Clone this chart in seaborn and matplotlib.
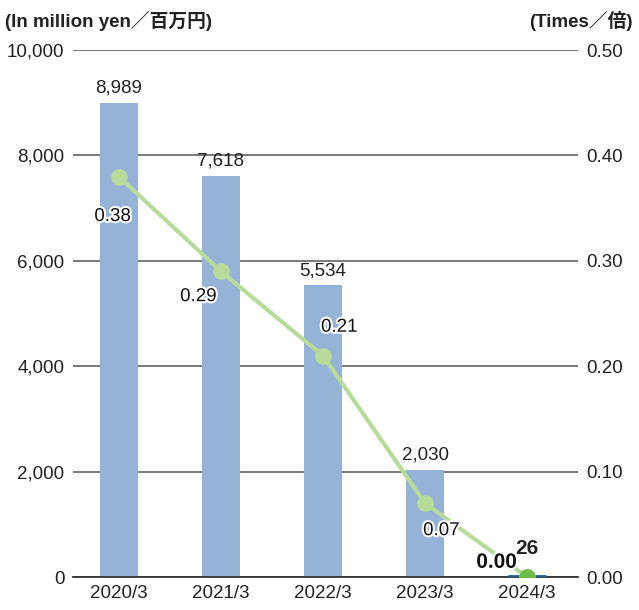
import matplotlib
matplotlib.use("Agg")
import matplotlib.pyplot as plt
import matplotlib.patheffects as pe
import seaborn as sns
import pandas as pd

years = ["2020/3", "2021/3", "2022/3", "2023/3", "2024/3"]
debt = [8989, 7618, 5534, 2030, 26]
ratio = [0.38, 0.29, 0.21, 0.07, 0.00]
debt_labels = ["8,989", "7,618", "5,534", "2,030", "26"]
ratio_labels = ["0.38", "0.29", "0.21", "0.07", "0.00"]

sns.set_theme(style="white")
plt.rcParams["font.family"] = ["Liberation Sans", "Noto Sans CJK JP", "DejaVu Sans"]

df = pd.DataFrame({"year": years, "debt": debt, "ratio": ratio})

fig = plt.figure(figsize=(6.39, 6.10), dpi=100)
ax = fig.add_axes([0.114, 0.054, 0.791, 0.864])

sns.barplot(data=df, x="year", y="debt", color="#95b3d7", width=0.37,
            saturation=1, linewidth=0, edgecolor="none", ax=ax, zorder=2)
ax.set_ylim(0, 10000)
ax.set_xlim(-0.45, 4.5)
ax.set_yticks(range(0, 10001, 2000))
ax.set_yticklabels([f"{v:,}" for v in range(0, 10001, 2000)])
ax.yaxis.grid(True, color="#6e6e6e", linewidth=1.3, zorder=0)
ax.set_axisbelow(True)
for s in ["top", "right", "left"]:
    ax.spines[s].set_visible(False)
ax.spines["bottom"].set_color("#333333")
ax.spines["bottom"].set_linewidth(1.3)
ax.tick_params(axis="both", length=0, labelsize=13.5, colors="#222222", pad=6)
ax.set_xlabel("")
ax.set_ylabel("")

# tiny dark cap on last bar
ax.plot([3.815, 4.185], [26, 26], color="#1f5f99", lw=2, zorder=3,
        solid_capstyle="butt")

# bar value labels
for i, (v, lab) in enumerate(zip(debt, debt_labels)):
    if i < 4:
        ax.text(i, v + 120, lab, ha="center", va="bottom", fontsize=13.5,
                color="#222222")
ax.text(4, 26 + 330, debt_labels[4], ha="center", va="bottom", fontsize=15,
        fontweight="bold", color="#222222")

ax2 = ax.twinx()
ax2.set_ylim(0, 0.5)
ax2.set_yticks([0, 0.1, 0.2, 0.3, 0.4, 0.5])
ax2.set_yticklabels([f"{v:.2f}" for v in [0, 0.1, 0.2, 0.3, 0.4, 0.5]])
for s in ["top", "right", "left", "bottom"]:
    ax2.spines[s].set_visible(False)
ax2.tick_params(axis="both", length=0, labelsize=13.5, colors="#222222", pad=6)

sns.lineplot(x=list(range(5)), y=ratio, color="#b7dc9a", lw=3, marker="o",
             markersize=12, markeredgewidth=0, ax=ax2, zorder=4)
ax2.plot([4], [ratio[4]], "o", color="#6cbd45", markersize=12,
         markeredgewidth=0, zorder=5)
ax2.set_ylabel("")

outline = [pe.withStroke(linewidth=3, foreground="white")]
offsets = [(-0.06, -0.038), (-0.22, -0.024), (0.16, 0.027), (0.16, -0.026),
           (-0.3, 0.014)]
for i, (v, lab) in enumerate(zip(ratio, ratio_labels)):
    dx, dy = offsets[i]
    ax2.text(i + dx, v + dy, lab, ha="center", va="center",
             fontsize=15 if i == 4 else 13.5,
             color="#111111", path_effects=outline,
             fontweight="bold" if i == 4 else "normal", zorder=6)

fig.text(0.008, 0.965, "(In million yen／百万円)", ha="left", va="center",
         fontsize=13.5, fontweight="bold", color="#222222")
fig.text(0.99, 0.965, "(Times／倍)", ha="right", va="center",
         fontsize=13.5, fontweight="bold", color="#222222")

fig.savefig("out.png", dpi=100)
